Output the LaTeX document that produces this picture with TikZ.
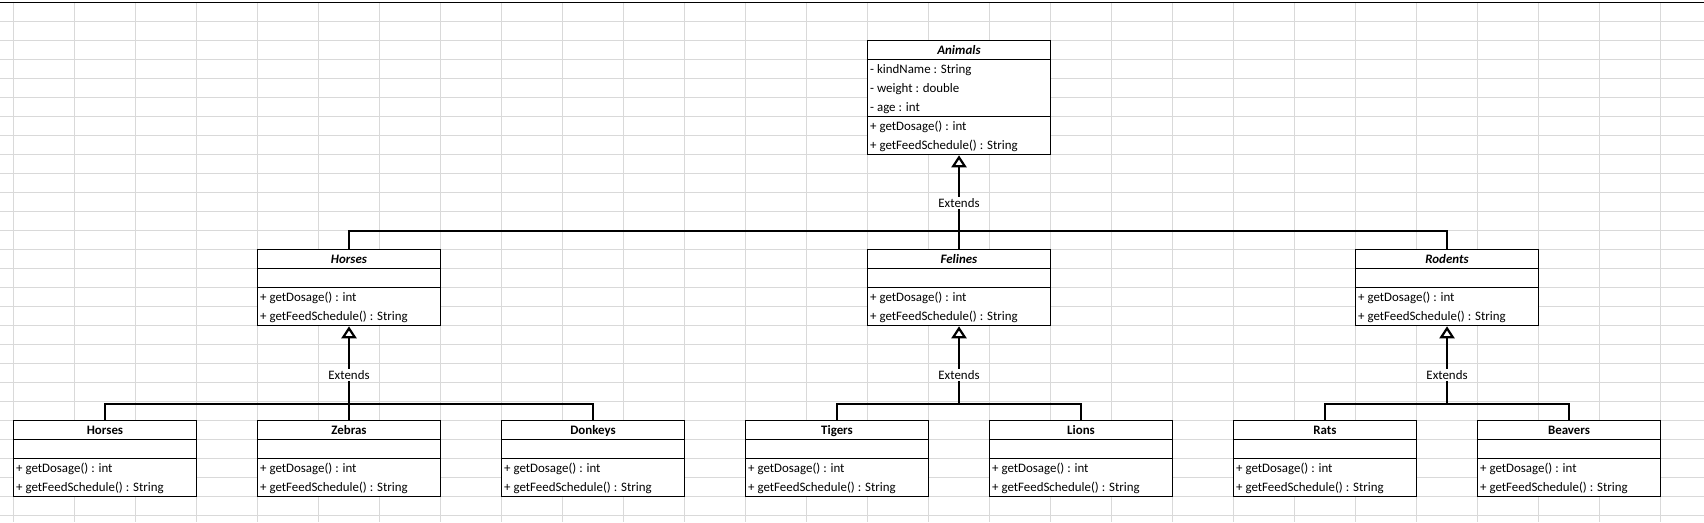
\documentclass[tikz,border=0pt]{standalone}
\usepackage{fontspec}
\setmainfont{Carlito}
\usetikzlibrary{arrows.meta}

\begin{document}
\begin{tikzpicture}[x=1pt,y=-1pt,
    gridline/.style={draw=black!15,line width=1pt},
    classbox/.style={draw,fill=white,line width=1pt,anchor=north west,minimum width=183pt,inner sep=0pt},
    title/.style={anchor=base,inner sep=0pt,font=\fontsize{12.9}{14}\selectfont\bfseries},
    member/.style={anchor=base west,inner sep=0pt,font=\fontsize{12.9}{14}\selectfont},
    link/.style={line width=2.2pt},
    extends/.style={-{Triangle[open,length=12pt,width=15pt]}},
    extlabel/.style={fill=white,inner sep=1.5pt,font=\fontsize{12.9}{14}\selectfont}]
  \useasboundingbox (0,0) rectangle (1704,522);
  % sheet grid
  \foreach \c in {0,...,27}
    \draw[gridline] (13+61*\c,2.3) -- (13+61*\c,522);
  \foreach \r in {0,...,26}
    \draw[gridline] (0,21.3+19*\r) -- (1704,21.3+19*\r);
  \draw[line width=1pt] (0,2.3) -- (1704,2.3);

  % base class
  \node[classbox,minimum height=114pt] (animals) at (867,40.3) {};
  \draw[line width=1pt] ([yshift=-19pt]animals.north west) -- ([yshift=-19pt]animals.north east);
  \draw[line width=1pt] ([yshift=-76pt]animals.north west) -- ([yshift=-76pt]animals.north east);
  \node[title] at ([yshift=-14pt]animals.north) {\textit{Animals}};
  \node[member] at ([xshift=3pt,yshift=-33pt]animals.north west) {- kindName : String};
  \node[member] at ([xshift=3pt,yshift=-52pt]animals.north west) {- weight : double};
  \node[member] at ([xshift=3pt,yshift=-71pt]animals.north west) {- age : int};
  \node[member] at ([xshift=3pt,yshift=-90pt]animals.north west) {+ getDosage() : int};
  \node[member] at ([xshift=3pt,yshift=-109pt]animals.north west) {+ getFeedSchedule() : String};

  % groups and kinds
  \foreach \n/\c/\r/\t in {horsesbase/4/12/\textit{Horses}, felinesbase/14/12/\textit{Felines},
      rodentsbase/22/12/\textit{Rodents}, horses/0/21/Horses, zebras/4/21/Zebras,
      donkeys/8/21/Donkeys, tigers/12/21/Tigers, lions/16/21/Lions, rats/20/21/Rats,
      beavers/24/21/Beavers} {
    \node[classbox,minimum height=76pt] (\n) at (13+61*\c,21.3+19*\r) {};
    \draw[line width=1pt] ([yshift=-19pt]\n.north west) -- ([yshift=-19pt]\n.north east);
    \draw[line width=1pt] ([yshift=-38pt]\n.north west) -- ([yshift=-38pt]\n.north east);
    \node[title] at ([yshift=-14pt]\n.north) {\t};
    \node[member] at ([xshift=3pt,yshift=-52pt]\n.north west) {+ getDosage() : int};
    \node[member] at ([xshift=3pt,yshift=-71pt]\n.north west) {+ getFeedSchedule() : String};
  }

  % extends links
  \coordinate (j0) at ([yshift=-76pt]animals.south);
  \draw[link] (horsesbase.north) |- (j0) -| (rodentsbase.north);
  \draw[link] (felinesbase.north) -- (j0);
  \draw[link,extends] (j0) -- node[pos=0.37,extlabel] {Extends} (animals.south);

  \coordinate (j1) at ([yshift=-78pt]horsesbase.south);
  \draw[link] (horses.north) |- (j1) -| (donkeys.north);
  \draw[link] (zebras.north) -- (j1);
  \draw[link,extends] (j1) -- node[pos=0.38,extlabel] {Extends} (horsesbase.south);

  \coordinate (j2) at ([yshift=-78pt]felinesbase.south);
  \draw[link] (tigers.north) |- (j2) -| (lions.north);
  \draw[link,extends] (j2) -- node[pos=0.38,extlabel] {Extends} (felinesbase.south);

  \coordinate (j3) at ([yshift=-78pt]rodentsbase.south);
  \draw[link] (rats.north) |- (j3) -| (beavers.north);
  \draw[link,extends] (j3) -- node[pos=0.38,extlabel] {Extends} (rodentsbase.south);
\end{tikzpicture}
\end{document}
